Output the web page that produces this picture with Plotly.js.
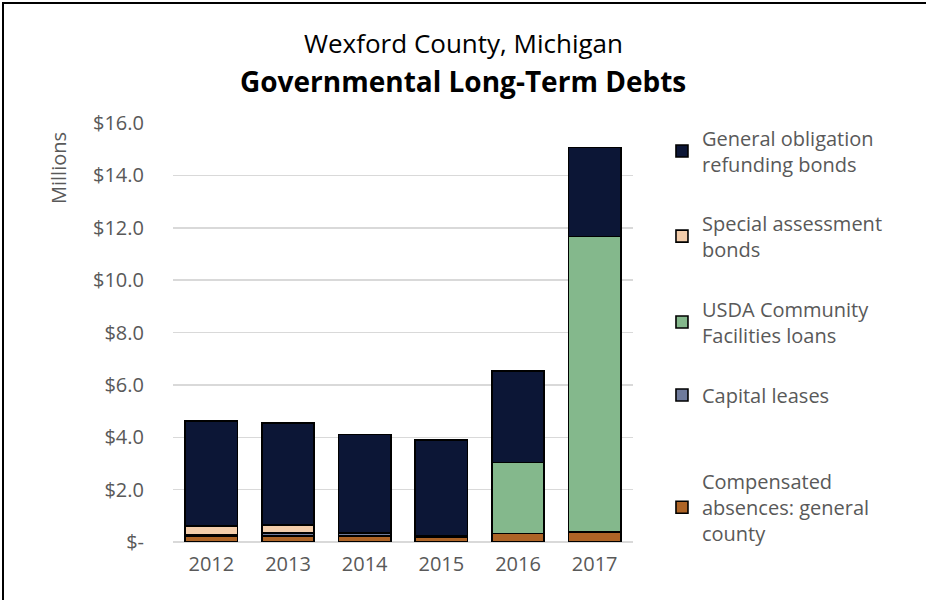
<!DOCTYPE html>
<html>
<head>
<meta charset="utf-8">
<script src="https://cdn.plot.ly/plotly-3.0.1.min.js"></script>
<style>
  html, body { margin: 0; padding: 0; background: #fff; overflow: hidden; }
  #chart { width: 926px; height: 600px; position: absolute; left: 0; top: 0; }
  #frame { position: absolute; left: 2px; top: 2px; width: 1000px; height: 800px;
           border: 2px solid #000; box-sizing: border-box; pointer-events: none; }
</style>
</head>
<body>
<div id="chart"></div>
<div id="frame"></div>
<script>
const years = ['2012', '2013', '2014', '2015', '2016', '2017'];
const compensatedAbsences = [0.23, 0.24, 0.23, 0.20, 0.33, 0.39];
const capitalLeases       = [0.03, 0.10, 0.10, 0.05, 0.00, 0.00];
const usdaLoans           = [0.00, 0.00, 0.00, 0.00, 2.70, 11.28];
const specialAssessment   = [0.36, 0.32, 0.02, 0.00, 0.00, 0.00];
const generalObligation   = [4.00, 3.88, 3.76, 3.65, 3.51, 3.39];

const yTickVals = [0, 2, 4, 6, 8, 10, 12, 14, 16];
const yTickText = ['$-', '$2.0', '$4.0', '$6.0', '$8.0', '$10.0', '$12.0', '$14.0', '$16.0'];

const seriesNames = [
  'Compensated<br>absences: general<br>county',
  'Capital leases',
  'USDA Community<br>Facilities loans',
  'Special assessment<br>bonds',
  'General obligation<br>refunding bonds'
];
const seriesData = [compensatedAbsences, capitalLeases, usdaLoans, specialAssessment, generalObligation];
const seriesColors = ['#ae6426', '#6f7b9c', '#84b88c', '#f3cdab', '#0c1636'];
const legendIds = ['legend5', 'legend4', 'legend3', 'legend2', 'legend'];
const legendY = [0.083, 0.351, 0.525, 0.730, 0.933];

const FONT = 'Open Sans, Lato, sans-serif';
const GREY = '#595959';

const traces = seriesData.map((vals, i) => ({
  type: 'bar',
  x: years,
  y: vals,
  name: seriesNames[i],
  legend: legendIds[i],
  marker: { color: seriesColors[i], line: { color: '#000', width: 1.6 } },
  hoverinfo: 'x+y+name'
}));

const layout = {
  width: 926,
  height: 600,
  margin: { l: 173, r: 293, t: 123, b: 58, pad: 0 },
  paper_bgcolor: '#fff',
  plot_bgcolor: '#fff',
  barmode: 'stack',
  bargap: 0.32,
  font: { family: FONT, color: GREY, size: 20 },
  xaxis: {
    type: 'category',
    showgrid: false,
    showline: false,
    ticks: '',
    tickfont: { family: FONT, size: 20, color: GREY },
    ticklabelstandoff: 8
  },
  yaxis: {
    range: [0, 16],
    tickvals: yTickVals,
    ticktext: yTickText,
    showgrid: true,
    gridcolor: '#d9d9d9',
    gridwidth: 1.5,
    zeroline: true,
    zerolinecolor: '#d9d9d9',
    zerolinewidth: 1.5,
    showline: false,
    ticks: '',
    ticklabelstandoff: 28,
    tickfont: { family: FONT, size: 20, color: GREY }
  },
  annotations: [
    {
      text: 'Wexford County, Michigan',
      xref: 'paper', yref: 'paper',
      x: (463 - 173) / 460, y: (542 - 43) / 419,
      xanchor: 'center', yanchor: 'middle',
      showarrow: false,
      font: { family: FONT, size: 26, color: '#000' }
    },
    {
      text: '<b>Governmental Long-Term Debts</b>',
      xref: 'paper', yref: 'paper',
      x: (463 - 173) / 460, y: (542 - 81) / 419,
      xanchor: 'center', yanchor: 'middle',
      showarrow: false,
      font: { family: FONT, size: 28, color: '#000' }
    },
    {
      text: 'Millions',
      xref: 'paper', yref: 'paper',
      x: (58 - 173) / 460, y: (542 - 168) / 419,
      xanchor: 'center', yanchor: 'middle',
      textangle: -90,
      showarrow: false,
      font: { family: FONT, size: 20, color: GREY }
    }
  ],
  showlegend: true
};

legendIds.forEach((id, i) => {
  layout[id] = {
    x: 1.063,
    y: legendY[i],
    xanchor: 'left',
    yanchor: 'middle',
    bgcolor: 'rgba(0,0,0,0)',
    font: { family: FONT, size: 20, color: GREY },
    itemclick: false,
    itemdoubleclick: false
  };
});

Plotly.newPlot('chart', traces, layout, { displayModeBar: false, staticPlot: true });
</script>
</body>
</html>
